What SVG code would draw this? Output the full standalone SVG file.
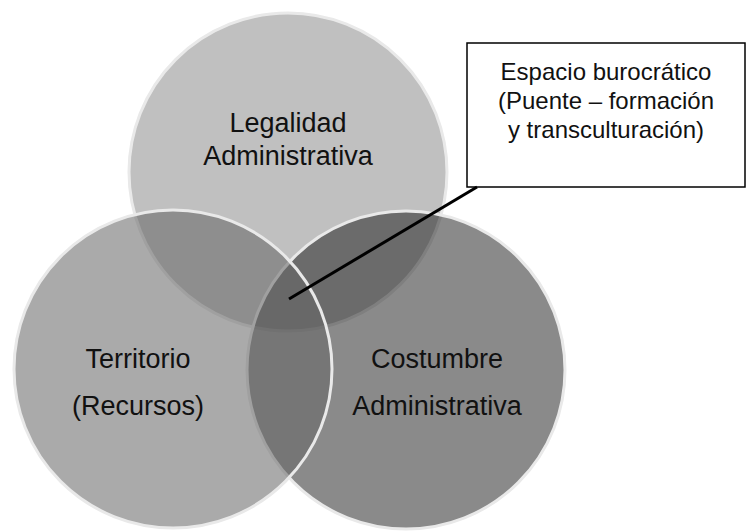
<svg xmlns="http://www.w3.org/2000/svg" width="748" height="531" viewBox="0 0 748 531">
<style>
.c{stroke:#e9e9e9;stroke-width:3}
.t{font-family:"Liberation Sans",Arial,sans-serif;font-size:27px;fill:#111;text-anchor:middle}
.ct{font-family:"Liberation Sans",Arial,sans-serif;font-size:24px;fill:#111;text-anchor:middle}
</style>
<rect width="748" height="531" fill="#fff"/>
<g id="legalidad">
<circle class="c" cx="288" cy="172" r="159" fill="#c0c0c0"/>
<text class="t" x="288" y="132">Legalidad</text>
<text class="t" x="288" y="165">Administrativa</text>
</g>
<g id="costumbre">
<circle class="c" cx="406" cy="370" r="159" fill="rgb(25,25,25)" fill-opacity="0.508"/>
<text class="t" x="437" y="368">Costumbre</text>
<text class="t" x="437" y="415">Administrativa</text>
</g>
<g id="territorio">
<circle class="c" cx="173" cy="369" r="159" fill="rgb(102,102,102)" fill-opacity="0.556"/>
<text class="t" x="138" y="368">Territorio</text>
<text class="t" x="138" y="415">(Recursos)</text>
</g>
<g id="callout">
<rect x="467" y="43" width="278" height="144" fill="#fff" stroke="#000" stroke-width="1.5"/>
<text class="ct" x="606" y="80">Espacio burocrático</text>
<text class="ct" x="606" y="109">(Puente – formación</text>
<text class="ct" x="606" y="138">y transculturación)</text>
</g>
<g id="connectors">
<line x1="477" y1="187" x2="289" y2="299" stroke="#000" stroke-width="3"/>
</g>
</svg>
